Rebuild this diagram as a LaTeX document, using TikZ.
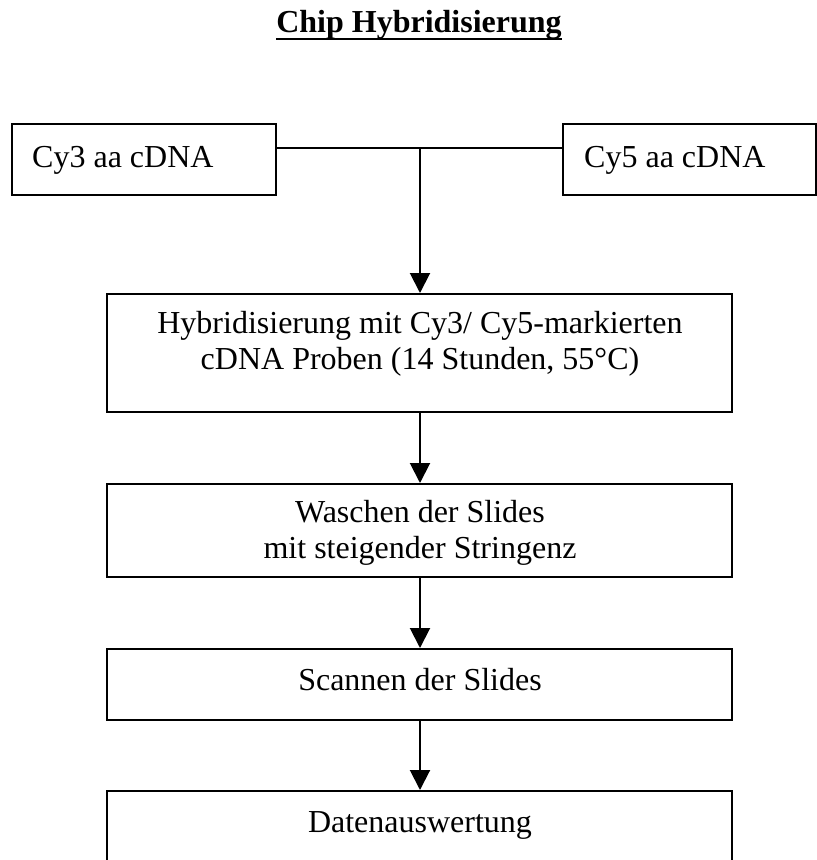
\documentclass[tikz,border=0pt]{standalone}
\usepackage{fontspec}
\setmainfont{Liberation Serif}
\usetikzlibrary{arrows.meta}
\tikzset{
  box/.style={draw, line width=2pt, rectangle, inner sep=0pt},
  txt/.style={inner sep=0pt, font=\fontsize{32pt}{36pt}\selectfont},
  arr/.style={line width=2pt, -{Triangle[width=20pt,length=20pt]}},
  conn/.style={line width=2pt}
}
\begin{document}
\begin{tikzpicture}[x=1pt,y=-1pt]
\useasboundingbox (0,0) rectangle (817,860);
\clip (0,0) rectangle (817,860);
% title
\node[txt, anchor=base, font=\fontsize{32pt}{36pt}\selectfont\bfseries] (title) at (419,32) {Chip Hybridisierung};
\draw[line width=2.5pt] ([yshift=-7pt]title.base west) -- ([yshift=-7pt]title.base east);
% boxes
\node[box, minimum width=264pt, minimum height=71pt] (cy3) at (144,159.5) {};
\node[box, minimum width=253pt, minimum height=71pt] (cy5) at (689.5,159.5) {};
\node[box, minimum width=625pt, minimum height=118pt] (hyb) at (419.5,353) {};
\node[box, minimum width=625pt, minimum height=93pt] (wash) at (419.5,530.5) {};
\node[box, minimum width=625pt, minimum height=71pt] (scan) at (419.5,684.5) {};
\node[box, minimum width=625pt, minimum height=71pt] (data) at (419.5,826.5) {};
% texts
\node[txt, anchor=base west] (cy3t) at (32,167) {Cy3 aa cDNA};
\node[txt, anchor=base west] (cy5t) at (584,167) {Cy5 aa cDNA};
\node[txt, anchor=base] (hybA) at (420,333) {Hybridisierung mit Cy3/ Cy5-markierten};
\node[txt, anchor=base] (hybB) at (420,369) {cDNA Proben (14 Stunden, 55°C)};
\node[txt, anchor=base] (washA) at (420,522) {Waschen der Slides};
\node[txt, anchor=base] (washB) at (420,558) {mit steigender Stringenz};
\node[txt, anchor=base] (scant) at (420,690) {Scannen der Slides};
\node[txt, anchor=base] (datat) at (420,832) {Datenauswertung};
% connectors
\coordinate (j) at (420,148);
\draw[conn] (cy3.east |- j) -- (cy5.west |- j);
\draw[arr] (j) -- (j |- hyb.north);
\draw[arr] (j |- hyb.south) -- (j |- wash.north);
\draw[arr] (j |- wash.south) -- (j |- scan.north);
\draw[arr] (j |- scan.south) -- (j |- data.north);
\end{tikzpicture}
\end{document}
